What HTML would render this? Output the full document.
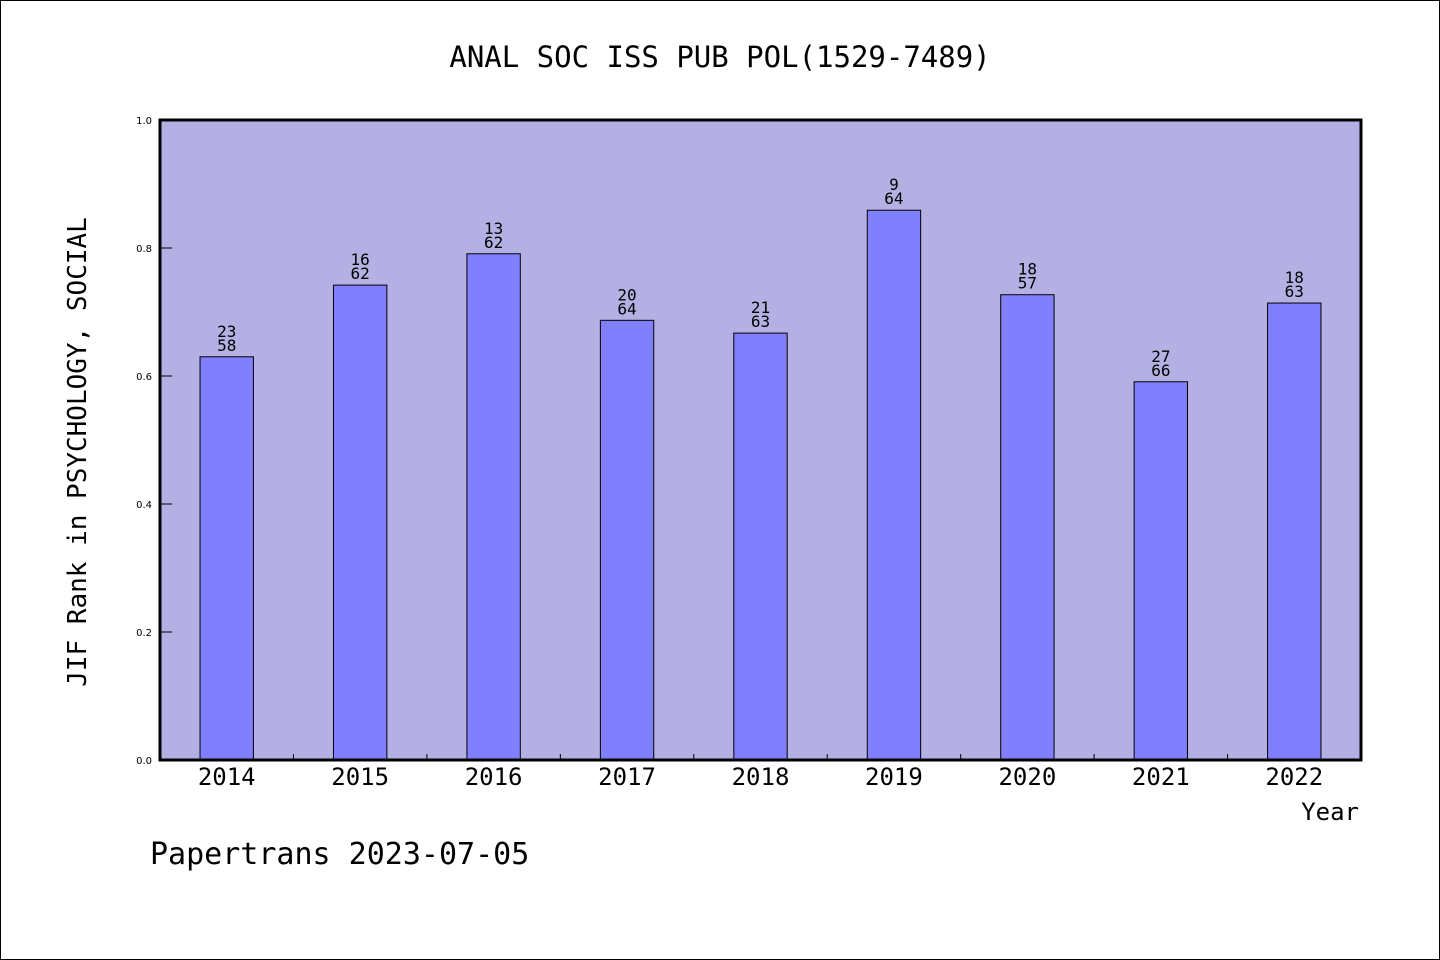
<!DOCTYPE html>
<html><head><meta charset="utf-8"><style>
html,body{margin:0;padding:0;background:#fff}
svg{display:block}
</style></head><body>
<svg id="chart" width="1440" height="960" xmlns="http://www.w3.org/2000/svg" font-family="'DejaVu Sans Mono','Liberation Mono',monospace">
<rect x="0.5" y="0.5" width="1439" height="959" fill="#fff" stroke="#000" stroke-width="1"/>
<text x="720" y="67" text-anchor="middle" font-size="29">ANAL SOC ISS PUB POL(1529-7489)</text>
<rect x="160" y="120" width="1201" height="640" fill="#b5b0e3"/>
<g id="bars"></g>
<g id="axes"></g>
<rect x="160" y="120" width="1201" height="640" fill="none" stroke="#000" stroke-width="3"/>
<text transform="translate(86,452) rotate(-90)" text-anchor="middle" font-size="26">JIF Rank in PSYCHOLOGY, SOCIAL</text>
<text x="1359" y="820" text-anchor="end" font-size="24">Year</text>
<text x="150" y="864" font-size="30">Papertrans 2023-07-05</text>
</svg>
<script>
const categories = ["2014","2015","2016","2017","2018","2019","2020","2021","2022"];
const values = [0.630, 0.742, 0.791, 0.687, 0.667, 0.859, 0.727, 0.591, 0.714];
const ranks = ["23","16","13","20","21","9","18","27","18"];
const totals = ["58","62","62","64","63","64","57","66","63"];
const yTicks = [0, 0.2, 0.4, 0.6, 0.8, 1.0];

const NS = "http://www.w3.org/2000/svg";
const X0 = 160, X1 = 1361, Y0 = 760, Y1 = 120;
const band = (X1 - X0) / categories.length;
const xPos = i => X0 + band * (i + 0.5);
const yPos = v => Y0 - (v - 0) / (1 - 0) * (Y0 - Y1);
function mk(tag, attrs, parent) {
  const e = document.createElementNS(NS, tag);
  for (const k in attrs) e.setAttribute(k, attrs[k]);
  parent.appendChild(e);
  return e;
}
const bars = document.getElementById("bars");
const axes = document.getElementById("axes");
const bw = band * 0.4;
categories.forEach((c, i) => {
  const cx = xPos(i), top = yPos(values[i]);
  const r = mk("rect", {x: cx - bw / 2, y: top, width: bw, height: Y0 - top, fill: "#8080ff", stroke: "#000", "stroke-width": 1}, bars);
  
  
  const t1 = mk("text", {x: cx, y: top - 20, "text-anchor": "middle", "font-size": 16}, bars);
  t1.textContent = ranks[i];
  
  
  const t2 = mk("text", {x: cx, y: top - 6, "text-anchor": "middle", "font-size": 16}, bars);
  t2.textContent = totals[i];
  
  
  const xl = mk("text", {x: cx, y: 785, "text-anchor": "middle", "font-size": 24}, axes);
  xl.textContent = c;
  
  
  if (i > 0) {
    const bx = X0 + band * i;
    const tk = mk("line", {x1: bx, x2: bx, y1: Y0, y2: Y0 - 6, stroke: "#000", "stroke-width": 1}, axes);
    
    
  }
});
yTicks.forEach(v => {
  const y = yPos(v);
  const tk = mk("line", {x1: X0, x2: X0 + 12, y1: y, y2: y, stroke: "#000", "stroke-width": 1}, axes);
  
  
  const tl = mk("text", {x: 152, y: y + 4, "text-anchor": "end", "font-size": 10, "font-family": "'DejaVu Sans','Liberation Sans',sans-serif"}, axes);
  tl.textContent = v.toFixed(1);
  
  
});
</script>
</body></html>
